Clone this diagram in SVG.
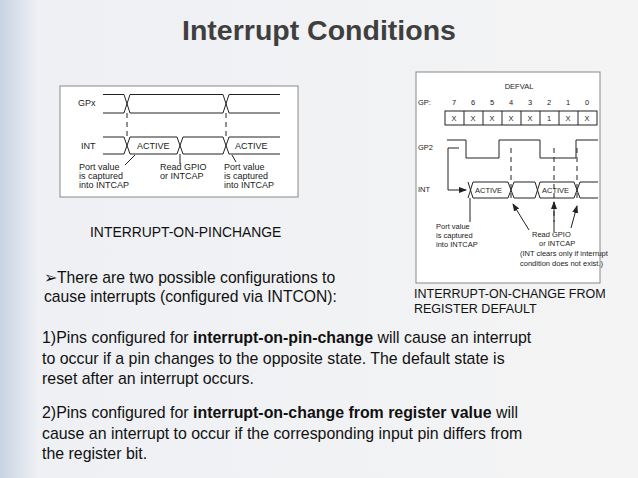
<svg xmlns="http://www.w3.org/2000/svg" width="638" height="478" viewBox="0 0 638 478">
<defs>
<linearGradient id="bg" x1="0" y1="0" x2="1" y2="0">
<stop offset="0" stop-color="#c9d4e2"/><stop offset="0.06" stop-color="#eef0f4"/><stop offset="1" stop-color="#f4f4f4"/>
</linearGradient>
<marker id="ah" markerWidth="8" markerHeight="6" refX="7" refY="3" orient="auto"><path d="M0,0L8,3L0,6z" fill="#222"/></marker>
<style>
.t{font-family:"Liberation Sans",Arial,sans-serif;fill:#111}
.s{font-family:"Liberation Sans",Arial,sans-serif;font-size:9px;fill:#222}
.w{stroke:#222;stroke-width:1;fill:none}
.d{stroke:#222;stroke-width:1;fill:none;stroke-dasharray:5,4}
</style>
</defs>
<rect width="638" height="478" fill="url(#bg)"/>
<text x="319" y="40" text-anchor="middle" class="t" style="font-size:28.5px;font-weight:bold;fill:#3f3f3f">Interrupt Conditions</text>
<g id="left-diagram">
<rect x="60" y="86" width="238" height="111" fill="#fff" stroke="#888"/>
<text x="78" y="106" class="s">GPx</text>
<path class="w" d="M103,94.5H124L130,113H223L229,94.5H280M103,113H124L130,94.5H223L229,113H280"/>
<text x="81" y="149" class="s">INT</text>
<path class="w" d="M103,137H124L130,154H177L183,137H223L229,154H280M103,154H124L130,137H177L183,154H223L229,137H280"/>
<path class="d" d="M127,113V137M226,113V137"/>
<path class="w" d="M180,154V164M135,155L125,165M232,155L236,162"/>
<text x="137" y="149" class="s">ACTIVE</text>
<text x="235" y="149" class="s">ACTIVE</text>
<text x="79" y="170" class="s">Port value</text><text x="79" y="179" class="s">is captured</text><text x="79" y="188" class="s">into INTCAP</text>
<text x="160" y="170" class="s">Read GPIO</text><text x="160" y="179" class="s">or INTCAP</text>
<text x="224" y="170" class="s">Port value</text><text x="224" y="179" class="s">is captured</text><text x="224" y="188" class="s">into INTCAP</text>
</g>
<g id="right-diagram">
<rect x="416" y="72" width="184" height="211" fill="#fff" stroke="#888"/>
<text x="519" y="89" text-anchor="middle" class="s" style="font-size:7.5px">DEFVAL</text>
<text x="418" y="105" class="s" style="font-size:7.5px">GP:</text>
<g class="s" style="font-size:7.5px" text-anchor="middle">
<text x="454" y="105">7</text><text x="473" y="105">6</text><text x="492" y="105">5</text><text x="511" y="105">4</text><text x="530" y="105">3</text><text x="549" y="105">2</text><text x="568" y="105">1</text><text x="587" y="105">0</text>
<text x="454" y="121">X</text><text x="473" y="121">X</text><text x="492" y="121">X</text><text x="511" y="121">X</text><text x="530" y="121">X</text><text x="549" y="121">1</text><text x="568" y="121">X</text><text x="587" y="121">X</text>
</g>
<rect x="445" y="111" width="152" height="14" fill="none" stroke="#222"/>
<path class="w" d="M464,111V125M483,111V125M502,111V125M521,111V125M540,111V125M559,111V125M578,111V125"/>
<text x="418" y="150" class="s" style="font-size:7.5px">GP2</text>
<path class="w" d="M447,140H466V158H499V140H540V158H576V140H598"/>
<path class="w" d="M459,148H448V190"/>
<path class="w" d="M448,190H466" marker-end="url(#ah)"/>
<text x="418" y="192" class="s" style="font-size:7.5px">INT</text>
<path class="w" d="M468,182L473,198H508L514,182H535L540,198H574L580,182H598M468,198L473,182H508L514,198H535L540,182H574L580,198H598"/>
<text x="475" y="193" class="s" style="font-size:7.5px">ACTIVE</text>
<text x="542" y="193" class="s" style="font-size:7.5px">ACTIVE</text>
<path class="d" d="M511,148V200M554,148V222M577,148V198"/>
<path class="w" d="M470,198V222"/>
<path class="w" d="M529,230L513,204" marker-end="url(#ah)"/>
<path class="w" d="M554,232V202" marker-end="url(#ah)"/>
<path class="w" d="M571,228L577,206" marker-end="url(#ah)"/>
<text x="436" y="229" class="s" style="font-size:7.5px">Port value</text><text x="436" y="238" class="s" style="font-size:7.5px">is captured</text><text x="436" y="247" class="s" style="font-size:7.5px">into INTCAP</text>
<text x="532" y="237" class="s" style="font-size:7.5px">Read GPIO</text><text x="539" y="246" class="s" style="font-size:7.5px">or INTCAP</text>
<text x="520" y="256" class="s" style="font-size:7.5px">(INT clears only if interrupt</text>
<text x="520" y="266" class="s" style="font-size:7.5px">condition does not exist.)</text>
</g>
<g class="t" style="font-size:15.9px">
<text x="90" y="237" style="font-size:13.9px">INTERRUPT-ON-PINCHANGE</text>
<text x="44" y="283" style="font-size:15.7px">➢There are two possible configurations to</text>
<text x="44" y="302" style="font-size:15.7px"> cause interrupts (configured via INTCON):</text>
<text x="414" y="298" style="font-size:12.5px">INTERRUPT-ON-CHANGE FROM</text>
<text x="414" y="313" style="font-size:12.5px">REGISTER DEFAULT</text>
<text x="42" y="343">1)Pins configured for <tspan font-weight="bold">interrupt-on-pin-change</tspan> will cause an interrupt</text>
<text x="42" y="364">to occur if a pin changes to the opposite state. The default state is</text>
<text x="42" y="384">reset after an interrupt occurs.</text>
<text x="42" y="418">2)Pins configured for <tspan font-weight="bold">interrupt-on-change from register value</tspan> will</text>
<text x="42" y="439">cause an interrupt to occur if the corresponding input pin differs from</text>
<text x="42" y="459">the register bit.</text>
</g>
</svg>
